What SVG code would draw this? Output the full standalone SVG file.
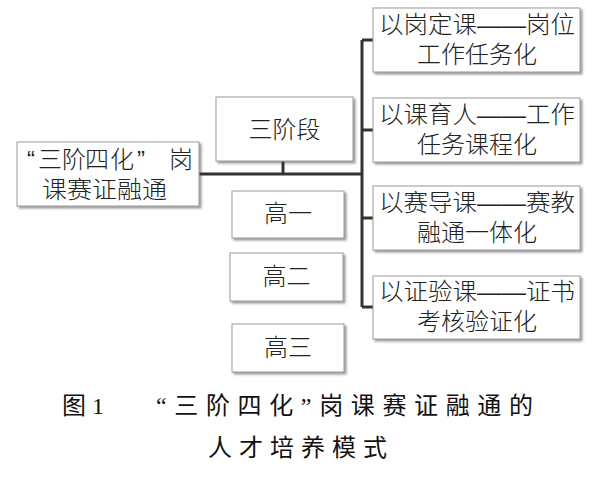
<svg xmlns="http://www.w3.org/2000/svg" width="600" height="489" viewBox="0 0 600 489">
<defs>
<filter id="sh" x="-10%" y="-10%" width="125%" height="130%">
<feDropShadow dx="2" dy="2" stdDeviation="1.2" flood-color="#444" flood-opacity="0.55"/>
</filter>
</defs>
<style>
.box{fill:#fff;stroke:#9a9a9a;stroke-width:1;filter:url(#sh)}
.t{font-family:"Liberation Sans","Noto Sans CJK SC","Noto Sans CJK JP",sans-serif;font-size:24px;font-weight:300;fill:#222}
.c{font-family:"Liberation Serif","Noto Sans CJK SC",serif;font-size:24px;fill:#111}
.ln{stroke:#333;stroke-width:3;fill:none}
</style>
<rect width="600" height="489" fill="#fff"/>
<g id="connectors">
<path class="ln" d="M199,174 H362"/>
<path class="ln" d="M283,161 V174"/>
<path class="ln" d="M362,40 V307"/>
<path class="ln" d="M362,40 H373 M362,130 H373 M362,218 H373 M362,307 H373"/>
</g>
<g id="root">
<rect class="box" x="17" y="142" width="182" height="64"/>
<text class="t"><tspan x="27 38 62 85 110 137 169" y="168">“三阶四化”岗</tspan><tspan x="42" y="198" textLength="125" lengthAdjust="spacingAndGlyphs">课赛证融通</tspan></text>
</g>
<g id="stage">
<rect class="box" x="216" y="97" width="137" height="64"/>
<text class="t" x="284.5" y="138" text-anchor="middle">三阶段</text>
</g>
<g id="g1">
<rect class="box" x="232" y="191" width="112" height="47"/>
<text class="t" x="288" y="222" text-anchor="middle">高一</text>
</g>
<g id="g2">
<rect class="box" x="230" y="253" width="113" height="48"/>
<text class="t" x="286.5" y="285" text-anchor="middle">高二</text>
</g>
<g id="g3">
<rect class="box" x="232" y="324" width="112" height="48"/>
<text class="t" x="288" y="356" text-anchor="middle">高三</text>
</g>
<g id="r1">
<rect class="box" x="373" y="8" width="207" height="64"/>
<text class="t"><tspan x="379" y="33" textLength="196" lengthAdjust="spacingAndGlyphs">以岗定课——岗位</tspan><tspan x="477" y="63" text-anchor="middle">工作任务化</tspan></text>
</g>
<g id="r2">
<rect class="box" x="373" y="98" width="207" height="64"/>
<text class="t"><tspan x="379" y="123" textLength="196" lengthAdjust="spacingAndGlyphs">以课育人——工作</tspan><tspan x="477" y="153" text-anchor="middle">任务课程化</tspan></text>
</g>
<g id="r3">
<rect class="box" x="373" y="186" width="207" height="64"/>
<text class="t"><tspan x="379" y="211" textLength="196" lengthAdjust="spacingAndGlyphs">以赛导课——赛教</tspan><tspan x="477" y="241" text-anchor="middle">融通一体化</tspan></text>
</g>
<g id="r4">
<rect class="box" x="373" y="276" width="207" height="63"/>
<text class="t"><tspan x="379" y="300" textLength="196" lengthAdjust="spacingAndGlyphs">以证验课——证书</tspan><tspan x="477" y="330" text-anchor="middle">考核验证化</tspan></text>
</g>
<g id="caption">
<text class="c" x="62" y="414">图 1</text>
<text class="c" x="156" y="414" textLength="377" lengthAdjust="spacing">“三阶四化”岗课赛证融通的</text>
<text class="c" x="208" y="456" textLength="179" lengthAdjust="spacing">人才培养模式</text>
</g>
</svg>
